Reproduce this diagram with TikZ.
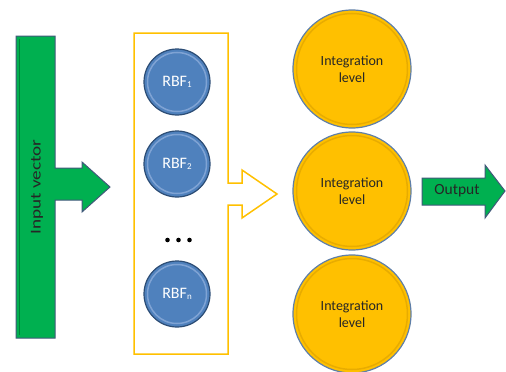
\documentclass[tikz,border=0pt]{standalone}
\usepackage{fontspec}
\usepackage{graphicx}
\setmainfont{Carlito}
\definecolor{grn}{HTML}{00B050}
\definecolor{grnedge}{HTML}{41597A}
\definecolor{grndark}{HTML}{00803A}
\definecolor{rbfblue}{HTML}{4F81BD}
\definecolor{rbfedge}{HTML}{2C4D75}
\definecolor{rbfrim}{HTML}{7FA3D4}
\definecolor{ygold}{HTML}{FFC000}
\definecolor{yedge}{HTML}{5F7FA8}
\definecolor{yrim}{HTML}{E8AC00}
\definecolor{boxy}{HTML}{FFC000}
\newcommand{\rbfsub}[1]{\raisebox{-1pt}{\fontsize{9}{9}\selectfont #1}}
\begin{document}
\begin{tikzpicture}[x=1pt,y=-1pt,
  rbf/.style={circle, minimum size=66pt, inner sep=0pt, fill=rbfblue, draw=rbfedge, line width=1.2pt, text=white, font=\fontsize{16}{18}\selectfont},
  integ/.style={circle, minimum size=118pt, inner sep=0pt, fill=ygold, draw=yedge, line width=1.2pt},
  integtext/.style={align=center, text=black!85, font=\fontsize{14}{16.5}\selectfont},
  shapearrow/.style={fill=grn, draw=grnedge, line width=1pt, line join=miter},
  dotmark/.style={circle, fill=black, inner sep=0pt, minimum size=4.6pt}]
\useasboundingbox (0,0) rectangle (506,372);
% input bar with arrow
\draw[shapearrow] (16,36) -- (55,36) -- (55,168) -- (82,168) -- (82,162) -- (110,187) -- (82,212) -- (82,200) -- (55,200) -- (55,338) -- (16,338) -- cycle;
\draw[grndark, line width=1pt] (19.5,39) -- (19.5,335);
\node[rotate=90, text=black!85, font=\fontsize{15}{17}\selectfont] (inlabel) at (37,187) {\scalebox{1.28}[1]{Input vector}};
% yellow box with arrow
\draw[boxy, line width=1.5pt, line join=miter] (134,33) -- (228,33) -- (228,183) -- (242,183) -- (242,170) -- (277,194) -- (242,218) -- (242,205) -- (228,205) -- (228,354) -- (134,354) -- cycle;
% RBF nodes
\node[rbf] (rbf1) at (177,82) {RBF\rbfsub{1}};
\node[rbf] (rbf2) at (177,164) {RBF\rbfsub{2}};
\node[rbf] (rbfn) at (177,294) {RBF\rbfsub{n}};
\foreach \n in {rbf1,rbf2,rbfn} \draw[rbfrim, line width=1.5pt] (\n.center) circle (29.5pt);
\node[dotmark] (d1) at (167.5,240) {};
\node[dotmark] (d2) at (178.5,240) {};
\node[dotmark] (d3) at (189.5,240) {};
% integration level nodes
\foreach \n/\y in {int1/69, int2/191, int3/314} {
  \node[integ] (\n) at (352,\y) {};
  \draw[yrim, line width=1.5pt] (\n.center) circle (55.5pt);
  \node[integtext] (\n t) at (\n.center) {Integration\\level};
}
% output arrow
\draw[shapearrow] (422,178) -- (485,178) -- (485,165) -- (505,191) -- (485,218) -- (485,205) -- (422,205) -- cycle;
\node[text=black!85, font=\fontsize{15.5}{17}\selectfont] (outlabel) at (457,191) {Output};
\end{tikzpicture}
\end{document}
